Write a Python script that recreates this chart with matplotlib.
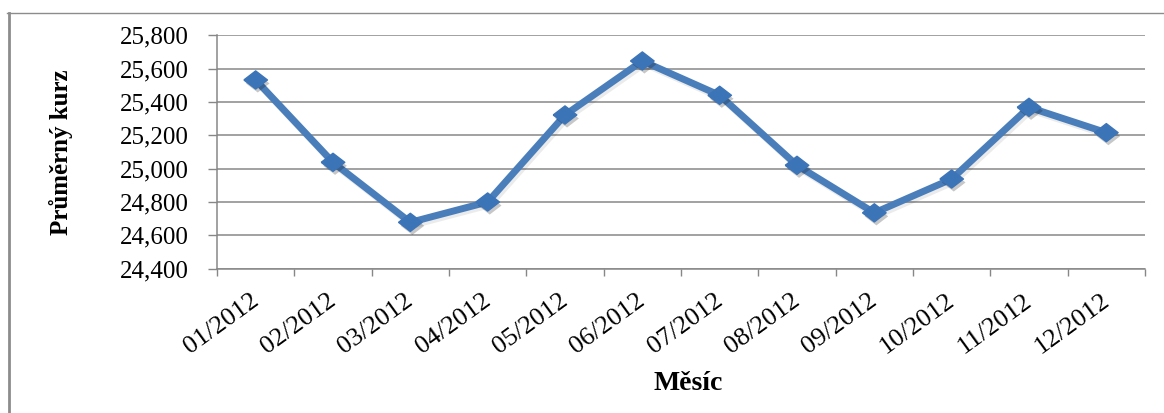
import matplotlib
matplotlib.use("Agg")
import matplotlib.pyplot as plt
import matplotlib.patheffects as pe
from matplotlib.lines import Line2D
from matplotlib.ticker import FixedLocator, FuncFormatter, NullFormatter
from matplotlib.transforms import ScaledTranslation

# Average monthly exchange rate, 2012
months = ["01/2012", "02/2012", "03/2012", "04/2012", "05/2012", "06/2012",
          "07/2012", "08/2012", "09/2012", "10/2012", "11/2012", "12/2012"]
avg_rate = [25.532, 25.038, 24.678, 24.800, 25.322, 25.646,
            25.440, 25.020, 24.735, 24.938, 25.368, 25.216]
y_ticks = [24.4, 24.6, 24.8, 25.0, 25.2, 25.4, 25.6, 25.8]
x_title = "Měsíc"
y_title = "Průměrný kurz"

SERIF = "Liberation Serif"
GRID = "#878787"
LINE = "#4a7ebb"
MARK = "#3c74b8"

W, H = 1164, 413
fig = plt.figure(figsize=(W / 100, H / 100), dpi=100)
fig.patch.set_facecolor("white")

# outer chart frame (top and left edges)
fig.add_artist(Line2D([7 / W, 1.0], [1 - 13 / H, 1 - 13 / H],
                      transform=fig.transFigure, color="#8c8c8c", lw=1.0))
fig.add_artist(Line2D([8.5 / W, 8.5 / W], [0.0, 1 - 13 / H],
                      transform=fig.transFigure, color="#8c8c8c", lw=2.0))

left, right, top, bottom = 217, 1145, 35.3, 268.7
ax = fig.add_axes([left / W, 1 - bottom / H, (right - left) / W, (bottom - top) / H])

x = list(range(len(months)))

# stretched diamond marker
diamond = [(-1.3, 0.0), (0.0, 1.0), (1.3, 0.0), (0.0, -1.0), (-1.3, 0.0)]

ax.plot(x, avg_rate, color=LINE, lw=5.0, solid_joinstyle="round", zorder=3,
        path_effects=[pe.SimpleLineShadow(offset=(1.5, -2), shadow_color="black", alpha=0.08),
                      pe.Normal()])
ax.plot(x, avg_rate, linestyle="none", marker=diamond, markersize=17,
        markerfacecolor=MARK, markeredgecolor=MARK, zorder=4,
        path_effects=[pe.SimplePatchShadow(offset=(1.5, -2.5), shadow_rgbFace="black", alpha=0.22),
                      pe.Normal()])

ax.set_xlim(-0.5, len(months) - 0.5)
ax.set_ylim(y_ticks[0], y_ticks[-1])

# y axis
ax.yaxis.set_major_locator(FixedLocator(y_ticks))
ax.yaxis.set_major_formatter(FuncFormatter(lambda v, p: f"{v:.3f}".replace(".", ",")))
ax.grid(axis="y", color=GRID, lw=1.1, zorder=0)
ax.set_axisbelow(True)

# x axis: tick marks at category boundaries, labels at centres
ax.xaxis.set_major_locator(FixedLocator([i - 0.5 for i in range(len(months) + 1)]))
ax.xaxis.set_major_formatter(NullFormatter())
ax.xaxis.set_minor_locator(FixedLocator(x))
ax.set_xticklabels(months, minor=True)

ax.tick_params(axis="y", which="major", direction="out", length=6.5, width=1.0,
               color=GRID, pad=14, labelsize=18, labelcolor="black")
ax.tick_params(axis="x", which="major", direction="out", length=5, width=1.0, color=GRID)
ax.tick_params(axis="x", which="minor", length=0, pad=15, labelsize=19, labelcolor="black")

shift = ScaledTranslation(7 / 100, 0, fig.dpi_scale_trans)
for lab in ax.get_xticklabels(minor=True):
    lab.set_rotation(36)
    lab.set_ha("right")
    lab.set_va("top")
    lab.set_fontfamily(SERIF)
    lab.set_transform(lab.get_transform() + shift)
for lab in ax.get_yticklabels():
    lab.set_fontfamily(SERIF)

for s in ("top", "right"):
    ax.spines[s].set_visible(False)
for s in ("left", "bottom"):
    ax.spines[s].set_color(GRID)
    ax.spines[s].set_linewidth(1.1)

fig.text(61 / W, 1 - 152 / H, y_title, rotation=90, ha="center", va="center",
         fontsize=18, fontweight="bold", family=SERIF)
fig.text(688 / W, 1 - 384 / H, x_title, ha="center", va="center",
         fontsize=20, fontweight="bold", family=SERIF)

fig.savefig("out.png", dpi=100, facecolor="white")
